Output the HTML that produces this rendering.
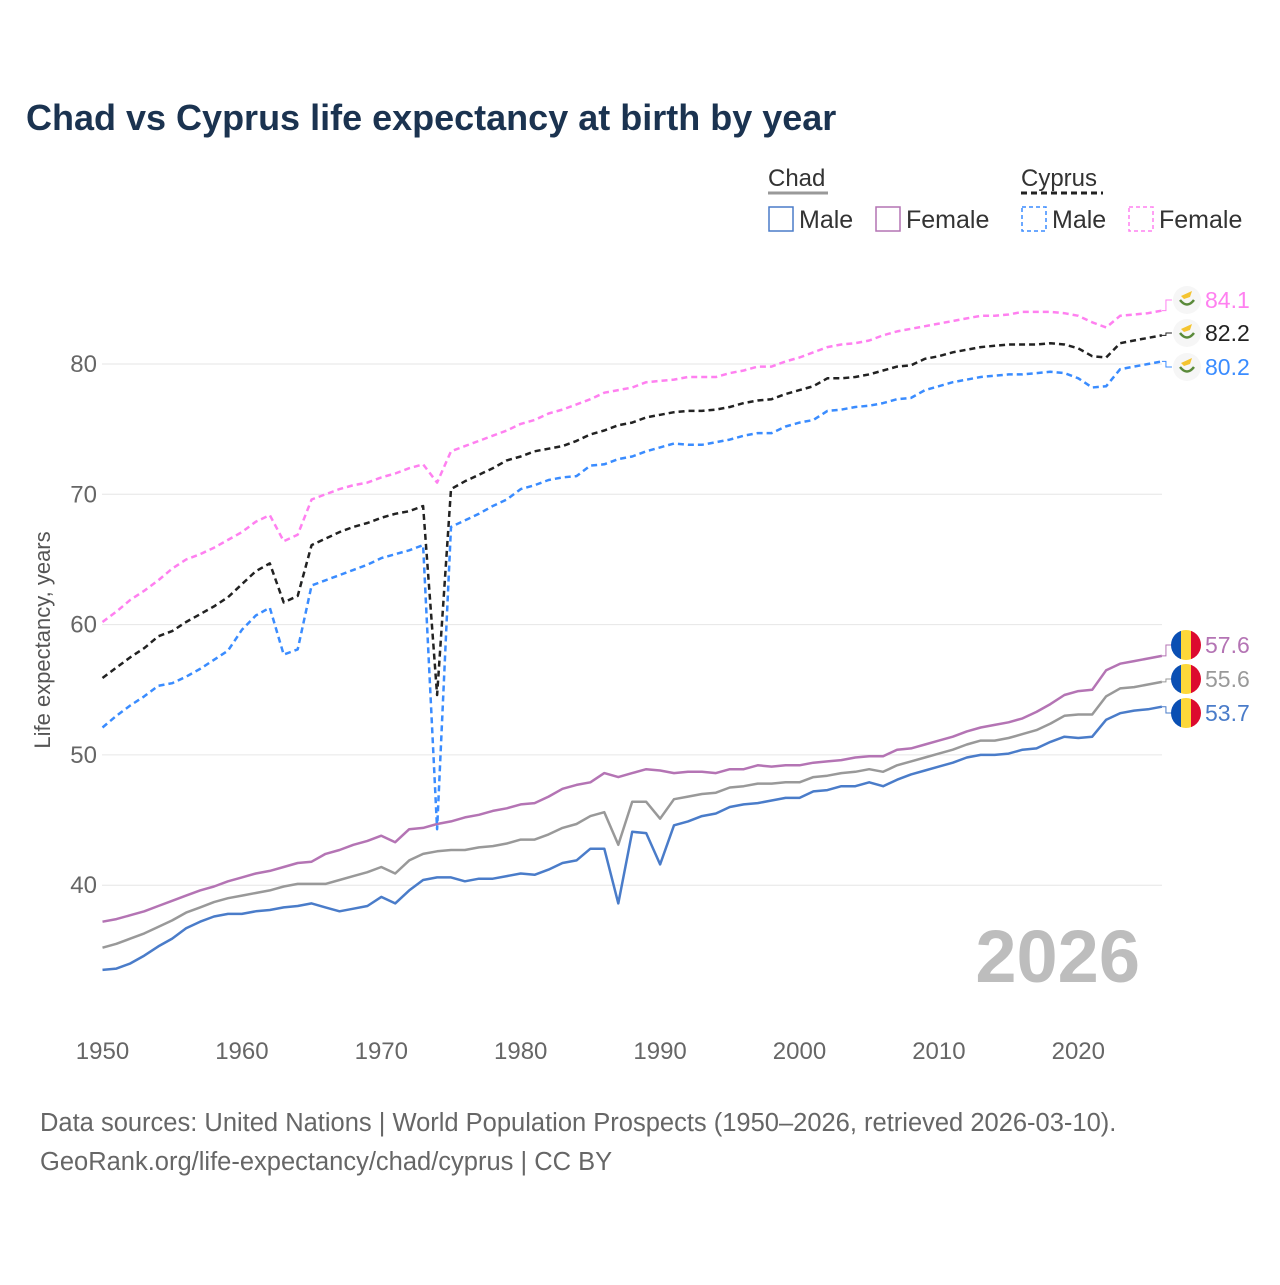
<!DOCTYPE html>
<html><head><meta charset="utf-8">
<style>
body{margin:0;background:#fff;font-family:"Liberation Sans",sans-serif;}
svg text{font-family:"Liberation Sans",sans-serif;}
</style></head>
<body>
<svg id="chart" width="1280" height="1280" viewBox="0 0 1280 1280">
<rect width="1280" height="1280" fill="#fff"/>
<text x="26" y="130" font-size="36" font-weight="bold" fill="#1b3350">Chad vs Cyprus life expectancy at birth by year</text>
<g id="legend">
  <text x="768" y="186" font-size="24" fill="#333">Chad</text>
  <line x1="768" y1="193" x2="828" y2="193" stroke="#999" stroke-width="3"/>
  <text x="1021" y="186" font-size="24" fill="#333">Cyprus</text>
  <line x1="1021" y1="193" x2="1103" y2="193" stroke="#222" stroke-width="3" stroke-dasharray="6,4"/>
  <g><rect x="769" y="207" width="24" height="24" fill="none" stroke="#4a7cc9" stroke-width="1.5"/><text x="799" y="228" font-size="25" fill="#333">Male</text></g>
  <g><rect x="876" y="207" width="24" height="24" fill="none" stroke="#b474b4" stroke-width="1.5"/><text x="906" y="228" font-size="25" fill="#333">Female</text></g>
  <g><rect x="1022" y="207" width="24" height="24" fill="none" stroke="#3a8cff" stroke-width="1.5" stroke-dasharray="4,3"/><text x="1052" y="228" font-size="25" fill="#333">Male</text></g>
  <g><rect x="1129" y="207" width="24" height="24" fill="none" stroke="#ff80f0" stroke-width="1.5" stroke-dasharray="4,3"/><text x="1159" y="228" font-size="25" fill="#333">Female</text></g>
</g>
<g id="grid"></g>
<text transform="translate(50,640) rotate(-90)" text-anchor="middle" font-size="22" fill="#555">Life expectancy, years</text>
<text x="1140" y="982" text-anchor="end" font-size="74" font-weight="bold" fill="#bdbdbd">2026</text>
<g id="series"></g>
<g id="endlabels"></g>
<text x="40" y="1131" font-size="25.5" fill="#666">Data sources: United Nations | World Population Prospects (1950–2026, retrieved 2026-03-10).</text>
<text x="40" y="1170" font-size="25.5" fill="#666">GeoRank.org/life-expectancy/chad/cyprus | CC BY</text>
</svg>
<script>
const startYear = 1950;
const xTicks = [1950,1960,1970,1980,1990,2000,2010,2020];
const yTicks = [40,50,60,70,80];
const chadMale = [33.5,33.6,34.0,34.6,35.3,35.9,36.7,37.2,37.6,37.8,37.8,38.0,38.1,38.3,38.4,38.6,38.3,38.0,38.2,38.4,39.1,38.6,39.6,40.4,40.6,40.6,40.3,40.5,40.5,40.7,40.9,40.8,41.2,41.7,41.9,42.8,42.8,38.6,44.1,44.0,41.6,44.6,44.9,45.3,45.5,46.0,46.2,46.3,46.5,46.7,46.7,47.2,47.3,47.6,47.6,47.9,47.6,48.1,48.5,48.8,49.1,49.4,49.8,50.0,50.0,50.1,50.4,50.5,51.0,51.4,51.3,51.4,52.7,53.2,53.4,53.5,53.7];
const chadTotal = [35.2,35.5,35.9,36.3,36.8,37.3,37.9,38.3,38.7,39.0,39.2,39.4,39.6,39.9,40.1,40.1,40.1,40.4,40.7,41.0,41.4,40.9,41.9,42.4,42.6,42.7,42.7,42.9,43.0,43.2,43.5,43.5,43.9,44.4,44.7,45.3,45.6,43.1,46.4,46.4,45.1,46.6,46.8,47.0,47.1,47.5,47.6,47.8,47.8,47.9,47.9,48.3,48.4,48.6,48.7,48.9,48.7,49.2,49.5,49.8,50.1,50.4,50.8,51.1,51.1,51.3,51.6,51.9,52.4,53.0,53.1,53.1,54.5,55.1,55.2,55.4,55.6];
const chadFemale = [37.2,37.4,37.7,38.0,38.4,38.8,39.2,39.6,39.9,40.3,40.6,40.9,41.1,41.4,41.7,41.8,42.4,42.7,43.1,43.4,43.8,43.3,44.3,44.4,44.7,44.9,45.2,45.4,45.7,45.9,46.2,46.3,46.8,47.4,47.7,47.9,48.6,48.3,48.6,48.9,48.8,48.6,48.7,48.7,48.6,48.9,48.9,49.2,49.1,49.2,49.2,49.4,49.5,49.6,49.8,49.9,49.9,50.4,50.5,50.8,51.1,51.4,51.8,52.1,52.3,52.5,52.8,53.3,53.9,54.6,54.9,55.0,56.5,57.0,57.2,57.4,57.6];
const cyprusMale = [52.1,53.0,53.8,54.5,55.3,55.5,56.0,56.6,57.3,58.0,59.6,60.7,61.3,57.7,58.1,63.0,63.4,63.8,64.2,64.6,65.1,65.4,65.7,66.1,44.3,67.5,68.0,68.5,69.1,69.6,70.4,70.7,71.1,71.3,71.4,72.2,72.3,72.7,72.9,73.3,73.6,73.9,73.8,73.8,74.0,74.2,74.5,74.7,74.7,75.2,75.5,75.7,76.4,76.5,76.7,76.8,77.0,77.3,77.4,78.0,78.3,78.6,78.8,79.0,79.1,79.2,79.2,79.3,79.4,79.3,78.9,78.2,78.3,79.6,79.8,80.0,80.2];
const cyprusTotal = [55.9,56.7,57.5,58.2,59.1,59.5,60.2,60.8,61.4,62.1,63.1,64.1,64.7,61.7,62.2,66.1,66.6,67.1,67.5,67.8,68.2,68.5,68.7,69.1,54.6,70.4,71.0,71.5,72.0,72.6,72.9,73.3,73.5,73.7,74.1,74.6,74.9,75.3,75.5,75.9,76.1,76.3,76.4,76.4,76.5,76.7,77.0,77.2,77.3,77.7,78.0,78.3,78.9,78.9,79.0,79.2,79.5,79.8,79.9,80.4,80.6,80.9,81.1,81.3,81.4,81.5,81.5,81.5,81.6,81.5,81.2,80.6,80.5,81.6,81.8,82.0,82.2];
const cyprusFemale = [60.2,61.0,61.9,62.6,63.4,64.3,65.0,65.4,65.9,66.5,67.1,67.9,68.4,66.4,66.9,69.6,70.0,70.4,70.7,70.9,71.3,71.6,72.0,72.3,70.9,73.3,73.7,74.1,74.5,74.9,75.4,75.7,76.2,76.5,76.9,77.3,77.8,78.0,78.2,78.6,78.7,78.8,79.0,79.0,79.0,79.3,79.5,79.8,79.8,80.2,80.5,80.9,81.3,81.5,81.6,81.8,82.2,82.5,82.7,82.9,83.1,83.3,83.5,83.7,83.7,83.8,84.0,84.0,84.0,83.9,83.7,83.2,82.8,83.7,83.8,83.9,84.1];

const NS = "http://www.w3.org/2000/svg";
const x = yr => 102.5 + (yr - 1950) * 13.94;
const y = v => 364 + (80 - v) * 13.03;
function mk(tag, attrs, parent){const e=document.createElementNS(NS,tag);for(const k in attrs)e.setAttribute(k,attrs[k]);parent.appendChild(e);return e;}

const grid = document.getElementById('grid');
yTicks.forEach(t=>{
  const l = mk('line',{x1:102,x2:1162,y1:y(t),y2:y(t),stroke:'#e6e6e6','stroke-width':1},grid);
  
  
  const tx = mk('text',{x:97,y:y(t)+8,'text-anchor':'end','font-size':24,fill:'#666'},grid);
  tx.textContent = t;
  
  
});
xTicks.forEach(t=>{
  const tx = mk('text',{x:x(t),y:1059,'text-anchor':'middle','font-size':24,fill:'#666'},grid);
  tx.textContent = t;
  
  
});

const series = [
  {d:chadMale, c:'#4a7cc9', dash:null, name:'chad-male', ly:713, flag:'td'},
  {d:chadTotal, c:'#999999', dash:null, name:'chad-total', ly:679, flag:'td'},
  {d:chadFemale, c:'#b474b4', dash:null, name:'chad-female', ly:645, flag:'td'},
  {d:cyprusMale, c:'#3a8cff', dash:'6,4', name:'cyprus-male', ly:367, flag:'cy'},
  {d:cyprusTotal, c:'#222222', dash:'6,4', name:'cyprus-total', ly:333, flag:'cy'},
  {d:cyprusFemale, c:'#ff80f0', dash:'6,4', name:'cyprus-female', ly:300, flag:'cy'}
];
const sg = document.getElementById('series');
const eg = document.getElementById('endlabels');
series.forEach(s=>{
  const pts = s.d.map((v,i)=>x(startYear+i).toFixed(1)+','+y(v).toFixed(1)).join(' ');
  const attrs = {points:pts,fill:'none',stroke:s.c,'stroke-width':2.5,'stroke-linejoin':'round'};
  if(s.dash) attrs['stroke-dasharray']=s.dash;
  const pl = mk('polyline',attrs,sg);
  
  
  const last = s.d[s.d.length-1];
  const lx = x(startYear+s.d.length-1);
  const conn = mk('polyline',{points:`${lx},${y(last)} ${lx+4},${y(last)} ${lx+4},${s.ly} ${lx+10},${s.ly}`,fill:'none',stroke:s.c,'stroke-width':1},eg);
  
  
  const fg = mk('g',{},eg);
  
  
  if(s.flag==='td'){
    const cx=1186, r=15;
    mk('clipPath',{id:'cp-'+s.name},fg);
    mk('circle',{cx:cx,cy:s.ly,r:r},document.getElementById('cp-'+s.name));
    const g2 = mk('g',{'clip-path':`url(#cp-${s.name})`},fg);
    mk('rect',{x:cx-r,y:s.ly-r,width:10,height:2*r,fill:'#0a4fb3'},g2);
    mk('rect',{x:cx-r+10,y:s.ly-r,width:10,height:2*r,fill:'#fdd83a'},g2);
    mk('rect',{x:cx-r+20,y:s.ly-r,width:10,height:2*r,fill:'#dc0b2e'},g2);
  } else {
    mk('circle',{cx:1187,cy:s.ly,r:14,fill:'#f6f6f6'},fg);
    mk('path',{d:`M1181 ${s.ly-4} L1192 ${s.ly-9} L1190 ${s.ly-3} L1184 ${s.ly-1} Z`,fill:'#f4c430'},fg);
    mk('path',{d:`M1180 ${s.ly} Q1187 ${s.ly+9} 1194 ${s.ly}`,fill:'none',stroke:'#5a8a3a','stroke-width':2.5},fg);
  }
  const t = mk('text',{x:1205,y:s.ly+8,'font-size':23,fill:s.c},eg);
  t.textContent = last.toFixed(1);
  
  
});
</script>
</body></html>
